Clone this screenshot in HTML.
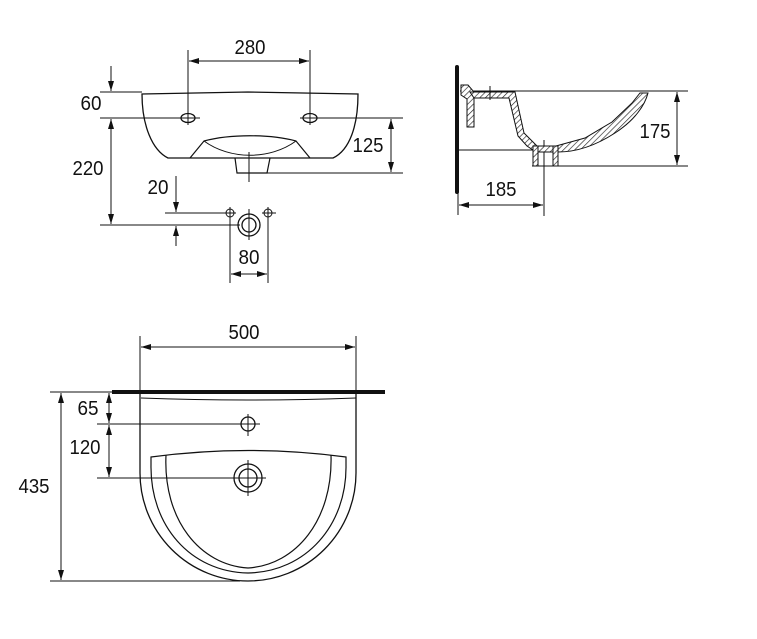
<!DOCTYPE html>
<html><head><meta charset="utf-8"><style>
html,body{margin:0;padding:0;background:#fff;}
svg{display:block;}
text{font-family:"Liberation Sans",sans-serif;font-size:20.5px;fill:#111;text-anchor:middle;}
</style></head><body>
<svg width="757" height="639" viewBox="0 0 757 639" xmlns="http://www.w3.org/2000/svg">
<defs>
<marker id="a" viewBox="0 0 10 6" refX="10" refY="3" markerWidth="10" markerHeight="6" markerUnits="userSpaceOnUse" orient="auto-start-reverse"><path d="M0,0 L10,3 L0,6 z" fill="#111"/></marker>
<pattern id="h" width="4" height="4" patternUnits="userSpaceOnUse" patternTransform="rotate(45)"><rect width="4" height="4" fill="#fff"/><line x1="0" y1="0" x2="0" y2="4" stroke="#222" stroke-width="1.3"/></pattern>
</defs>
<g fill="none" stroke="#111" stroke-width="1">
<line x1="188" y1="50" x2="188" y2="125"/><line x1="310" y1="50" x2="310" y2="125"/>
<line x1="189" y1="61" x2="309" y2="61" marker-start="url(#a)" marker-end="url(#a)"/>
<path d="M142,94 L248,92 L358,94 C358,125 350,150 333,158 L168,158 C152,150 142,125 142,94 Z" stroke-width="1.3"/>
<path d="M190,158 L204,141 C230,134 270,134 296,141 L310,158" stroke-width="1.2"/>
<path d="M204,141 C230,160 270,160 296,141" stroke-width="1"/>
<path d="M235,158 L237,173 L267,173 L270,158" stroke-width="1.2"/>
<line x1="249" y1="152" x2="249" y2="182"/>
<ellipse cx="188" cy="118" rx="7" ry="4.5" stroke-width="1.3"/><ellipse cx="310" cy="118" rx="7" ry="4.5" stroke-width="1.3"/>
<line x1="100" y1="92" x2="142" y2="92"/>
<line x1="100" y1="118" x2="200" y2="118"/><line x1="300" y1="118" x2="403" y2="118"/>
<line x1="267" y1="173" x2="403" y2="173"/>
<line x1="111" y1="66" x2="111" y2="91" marker-end="url(#a)"/>
<line x1="111" y1="119" x2="111" y2="224" marker-start="url(#a)" marker-end="url(#a)"/>
<line x1="391" y1="119" x2="391" y2="172" marker-start="url(#a)" marker-end="url(#a)"/>
<line x1="100" y1="225" x2="240" y2="225"/>
<line x1="165" y1="213" x2="230" y2="213"/>
<line x1="176" y1="176" x2="176" y2="212" marker-end="url(#a)"/>
<line x1="176" y1="246" x2="176" y2="226" marker-end="url(#a)"/>
<circle cx="230" cy="213" r="4"/><circle cx="268" cy="213" r="4"/>
<line x1="224" y1="213" x2="236" y2="213"/><line x1="262" y1="213" x2="276" y2="213"/>
<line x1="230" y1="207" x2="230" y2="283"/><line x1="268" y1="207" x2="268" y2="283"/>
<circle cx="249" cy="225" r="11" stroke-width="1.3"/><circle cx="249" cy="225" r="7" stroke-width="1.3"/>
<line x1="249" y1="209" x2="249" y2="240"/>
<line x1="231" y1="274" x2="267" y2="274" marker-start="url(#a)" marker-end="url(#a)"/>
<line x1="460" y1="91" x2="688" y2="91"/>
<line x1="532" y1="166" x2="688" y2="166"/>
<line x1="677" y1="92" x2="677" y2="165" marker-start="url(#a)" marker-end="url(#a)"/>
<line x1="458" y1="150" x2="535" y2="150"/>
<line x1="458" y1="190" x2="458" y2="215"/>
<line x1="544" y1="140" x2="544" y2="216"/>
<line x1="459" y1="205" x2="543" y2="205" marker-start="url(#a)" marker-end="url(#a)"/>
</g>
<line x1="457" y1="67" x2="457" y2="192" stroke="#111" stroke-width="4" stroke-linecap="round"/>
<g stroke="#111" stroke-width="1" fill="url(#h)">
<path d="M461,85 L468,85 L474,92 L474,127 L467,127 L467,99 L461,95 Z"/>
<path d="M470,92 L515,92 L524,133 L537,146 L556,146 L585,138 L612,122 L632,103 L640,93 L648,93 C645,105 635,120 615,133 C595,146 575,152 558,152 L536,152 L527,146 L518,136 L509,98 L474,98 Z"/>
<path d="M533,146 L538,146 L538,166 L533,166 Z"/>
<path d="M553,146 L558,146 L558,166 L553,166 Z"/>
</g>
<line x1="490" y1="86" x2="490" y2="100" stroke="#111" stroke-width="1"/>
<g fill="none" stroke="#111" stroke-width="1">
<line x1="140" y1="336" x2="140" y2="392"/><line x1="356" y1="336" x2="356" y2="392"/>
<line x1="141" y1="347" x2="355" y2="347" marker-start="url(#a)" marker-end="url(#a)"/>
<line x1="50" y1="392" x2="112" y2="392"/>
<path d="M140,393 L140,473 A108,108 0 0 0 356,473 L356,393" stroke-width="1.3"/>
<path d="M141,398 Q248,402 356,398" stroke-width="1"/>
<path d="M151,457 Q248,444 346,457 L346,465 C347,525 306,572 248,573 C190,572 150,525 151,465 Z" stroke-width="1.2"/>
<path d="M166,455 C163,520 200,565 248,568 C296,565 333,520 331,455" stroke-width="1.2"/>
<circle cx="248" cy="424" r="7" stroke-width="1.3"/>
<line x1="248" y1="414" x2="248" y2="436"/>
<line x1="97" y1="424" x2="260" y2="424"/>
<circle cx="248" cy="478" r="14" stroke-width="1.3"/><circle cx="248" cy="478" r="9" stroke-width="1.3"/>
<line x1="248" y1="460" x2="248" y2="496"/>
<line x1="97" y1="478" x2="266" y2="478"/>
<line x1="109" y1="393" x2="109" y2="423" marker-start="url(#a)" marker-end="url(#a)"/>
<line x1="109" y1="425" x2="109" y2="477" marker-start="url(#a)" marker-end="url(#a)"/>
<line x1="61" y1="393" x2="61" y2="580" marker-start="url(#a)" marker-end="url(#a)"/>
<line x1="50" y1="581" x2="240" y2="581"/>
</g>
<line x1="112" y1="392" x2="385" y2="392" stroke="#111" stroke-width="4"/>
<g>
<text x="250" y="54" textLength="31" lengthAdjust="spacingAndGlyphs">280</text>
<text x="91" y="110" textLength="21" lengthAdjust="spacingAndGlyphs">60</text>
<text x="88" y="175" textLength="31" lengthAdjust="spacingAndGlyphs">220</text>
<text x="368" y="152" textLength="31" lengthAdjust="spacingAndGlyphs">125</text>
<text x="158" y="194" textLength="21" lengthAdjust="spacingAndGlyphs">20</text>
<text x="249" y="264" textLength="21" lengthAdjust="spacingAndGlyphs">80</text>
<text x="655" y="138" textLength="31" lengthAdjust="spacingAndGlyphs">175</text>
<text x="501" y="196" textLength="31" lengthAdjust="spacingAndGlyphs">185</text>
<text x="244" y="339" textLength="31" lengthAdjust="spacingAndGlyphs">500</text>
<text x="88" y="415" textLength="21" lengthAdjust="spacingAndGlyphs">65</text>
<text x="85" y="454" textLength="31" lengthAdjust="spacingAndGlyphs">120</text>
<text x="34" y="493" textLength="31" lengthAdjust="spacingAndGlyphs">435</text>
</g>
</svg>
</body></html>
